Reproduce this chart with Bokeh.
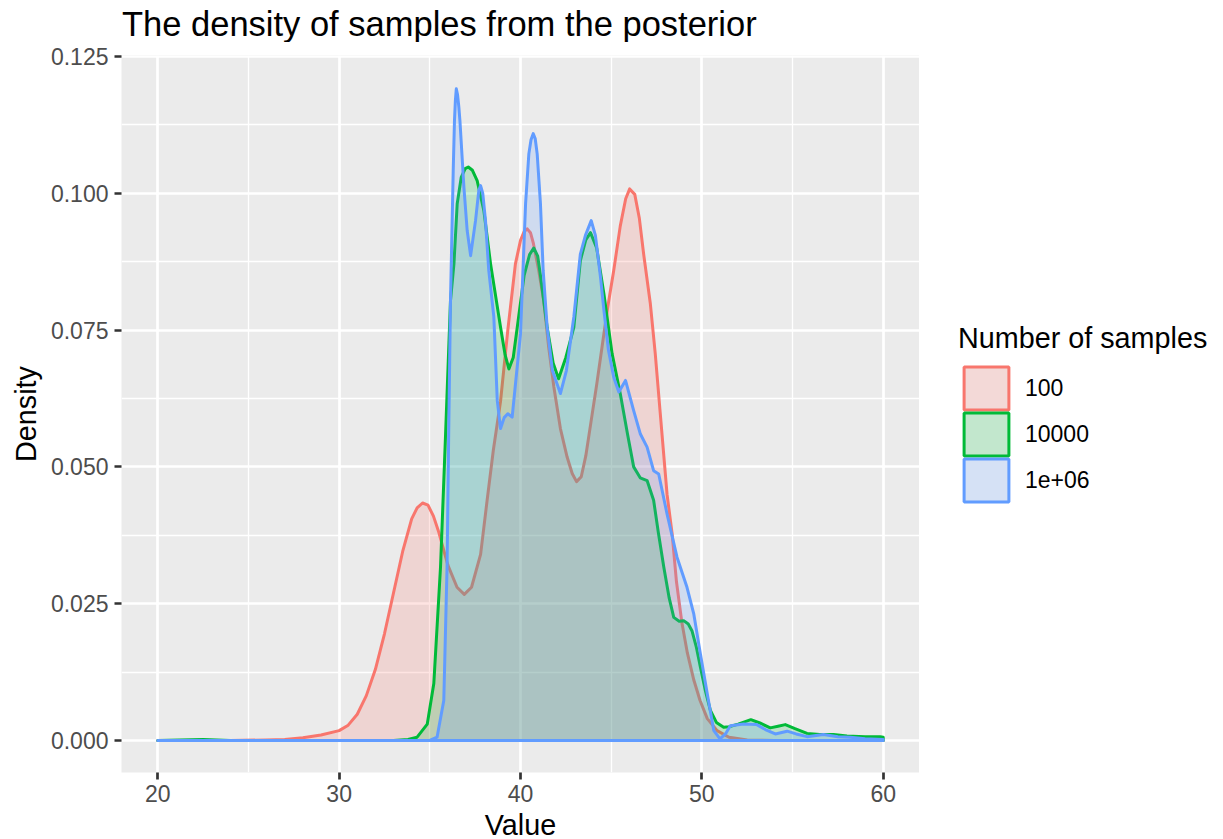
from bokeh.plotting import figure
from bokeh.layouts import column, row
from bokeh.models import Range1d, FixedTicker, PrintfTickFormatter, Legend, LegendItem, Label
from bokeh.embed import file_html
from bokeh.resources import INLINE

FONT = "Liberation Sans"

categories = ["100", "10000", "1e+06"]
colors = ["#F8766D", "#00BA38", "#619CFF"]

x_ticks = [20, 30, 40, 50, 60]
x_minor = [25, 35, 45, 55]
y_ticks = [0.0, 0.025, 0.05, 0.075, 0.1, 0.125]
y_minor = [0.0125, 0.0375, 0.0625, 0.0875, 0.1125]

# ---- samples = 100 ----
x_100 = [20.0, 24.0, 26.0, 27.0, 28.0, 29.0, 30.0, 30.5, 31.0, 31.5, 32.0, 32.5, 33.0,
         33.5, 34.0, 34.3, 34.6, 34.9, 35.2, 35.5, 36.0, 36.5, 36.9, 37.3, 37.8, 38.16,
         38.5, 38.9, 39.3, 39.72, 40.0, 40.2, 40.37, 40.55, 40.7, 41.0, 41.28, 41.55,
         41.84, 42.2, 42.57, 42.85, 43.09, 43.35, 43.6, 43.9, 44.2, 44.5, 44.8, 45.14,
         45.5, 45.8, 46.02, 46.3, 46.55, 46.79, 47.16, 47.43, 47.7, 48.08, 48.36, 48.6,
         48.9, 49.2, 49.56, 49.9, 50.3, 50.84, 51.5, 52.5, 54.0, 60.0]
d_100 = [0.0, 0.0, 0.0001, 0.0002, 0.0005, 0.0010, 0.0018, 0.0028, 0.0048, 0.0082, 0.0130,
         0.0195, 0.0270, 0.0345, 0.0405, 0.0425, 0.0434, 0.0430, 0.0410, 0.0380, 0.0320,
         0.0280, 0.0267, 0.0280, 0.0340, 0.0439, 0.0530, 0.0620, 0.0750, 0.0871, 0.0914,
         0.0930, 0.0935, 0.0928, 0.0910, 0.0860, 0.0804, 0.0720, 0.0646, 0.0570, 0.0518,
         0.0488, 0.0473, 0.0482, 0.0520, 0.0585, 0.0650, 0.0720, 0.0790, 0.0859, 0.0940,
         0.0990, 0.1008, 0.0998, 0.0955, 0.0889, 0.0798, 0.0707, 0.0600, 0.0450, 0.0378,
         0.0290, 0.0215, 0.0160, 0.0110, 0.0073, 0.0040, 0.0018, 0.0006, 0.0001, 0.0, 0.0]

# ---- samples = 10000 ----
x_1e4 = [20.0, 22.5, 24.0, 33.0, 33.8, 34.3, 34.86, 35.22, 35.59, 35.87, 36.14, 36.33,
         36.51, 36.73, 36.95, 37.12, 37.35, 37.61, 37.98, 38.35, 38.9, 39.15, 39.36, 39.6,
         39.82, 40.2, 40.5, 40.73, 40.95, 41.1, 41.47, 41.8, 42.1, 42.5, 42.94, 43.3, 43.6,
         43.86, 44.2, 44.6, 45.05, 45.5, 45.9, 46.24, 46.6, 46.98, 47.34, 47.6, 47.9, 48.2,
         48.45, 48.75, 49.0, 49.25, 49.46, 49.7, 49.92, 50.2, 50.47, 50.8, 51.2, 51.5, 52.0,
         52.7, 53.2, 53.77, 54.2, 54.6, 55.1, 55.8, 56.5, 57.26, 58.0, 59.0, 59.83, 60.0]
d_1e4 = [0.0, 0.0002, 0.0, 0.0, 0.0002, 0.0006, 0.0030, 0.0104, 0.0317, 0.0561, 0.0804,
         0.0871, 0.0981, 0.1029, 0.1045, 0.1048, 0.1042, 0.1023, 0.0968, 0.0871, 0.0755,
         0.0705, 0.0679, 0.0700, 0.0755, 0.0850, 0.0888, 0.0900, 0.0885, 0.0850, 0.0755,
         0.0690, 0.0661, 0.0700, 0.0755, 0.0877, 0.0915, 0.0928, 0.0900, 0.0816, 0.0707,
         0.0634, 0.0560, 0.0500, 0.0480, 0.0475, 0.0439, 0.0380, 0.0317, 0.0260, 0.0225,
         0.0218, 0.0219, 0.0213, 0.0200, 0.0170, 0.0134, 0.0090, 0.0055, 0.0033, 0.0024,
         0.0025, 0.0030, 0.0038, 0.0032, 0.0023, 0.0026, 0.0029, 0.0022, 0.0013, 0.0011,
         0.0011, 0.0008, 0.0007, 0.0007, 0.0006]

# ---- samples = 1e+06 ----
x_1e6 = [20.0, 35.0, 35.4, 35.77, 35.95, 36.04, 36.14, 36.29, 36.36, 36.41, 36.46, 36.53,
         36.6, 36.66, 36.88, 37.06, 37.25, 37.52, 37.7, 37.8, 37.92, 38.07, 38.25, 38.53,
         38.72, 38.9, 39.1, 39.3, 39.54, 40.0, 40.28, 40.46, 40.58, 40.7, 40.81, 40.92,
         41.1, 41.25, 41.47, 41.76, 42.2, 42.53, 42.94, 43.3, 43.58, 43.9, 44.13, 44.41,
         44.6, 44.85, 45.14, 45.42, 45.79, 46.24, 46.61, 46.98, 47.34, 47.62, 48.08, 48.63,
         49.18, 49.55, 49.92, 50.3, 50.66, 51.0, 51.3, 51.57, 52.3, 53.03, 53.5, 54.05,
         54.7, 55.2, 55.8, 56.7, 57.5, 58.18, 59.0, 60.0]
d_1e6 = [0.0, 0.0, 0.0006, 0.0073, 0.0317, 0.0560, 0.0804, 0.1041, 0.1133, 0.1170, 0.1191,
         0.1180, 0.1158, 0.1133, 0.1011, 0.0932, 0.0886, 0.0950, 0.1005, 0.1014, 0.1000,
         0.0950, 0.0859, 0.0774, 0.0621, 0.0570, 0.0590, 0.0597, 0.0591, 0.0743, 0.0981,
         0.1072, 0.1098, 0.1109, 0.1100, 0.1072, 0.0981, 0.0859, 0.0755, 0.0676, 0.0634,
         0.0676, 0.0774, 0.0889, 0.0923, 0.0950, 0.0923, 0.0847, 0.0786, 0.0713, 0.0664,
         0.0637, 0.0658, 0.0603, 0.0560, 0.0536, 0.0493, 0.0487, 0.0414, 0.0335, 0.0280,
         0.0232, 0.0158, 0.0085, 0.0018, 0.0003, 0.0012, 0.0027, 0.0030, 0.0029, 0.0020,
         0.0012, 0.0017, 0.0012, 0.0007, 0.0011, 0.0007, 0.0006, 0.0003, 0.0002]

series_x = [x_100, x_1e4, x_1e6]
series_d = [d_100, d_1e4, d_1e6]

TITLE_H = 42
MAIN_H = 770
BOTTOM_H = 839 - TITLE_H - MAIN_H
MAIN_W = 919
LEG_W = 1223 - MAIN_W
LINE_W = 3.0
FILL_ALPHA = 0.2
KEY_BG = (242, 242, 242)   # ggplot legend key background (grey95)


def blank(width, height, xr=(0, 1)):
    f = figure(width=width, height=height, output_backend="svg", toolbar_location=None,
               x_range=Range1d(*xr), y_range=Range1d(0, 1),
               x_axis_type=None, y_axis_type=None, min_border=0)
    f.outline_line_color = None
    f.background_fill_color = "white"
    f.border_fill_color = "white"
    return f


def closed(xs, ds):
    return list(xs) + [xs[-1], xs[0]], list(ds) + [0.0, 0.0]


def key_fill(hex_color):
    rgb = [int(hex_color[i:i + 2], 16) for i in (1, 3, 5)]
    mix = [round(bg + FILL_ALPHA * (c - bg)) for c, bg in zip(rgb, KEY_BG)]
    return "#%02X%02X%02X" % tuple(mix)


# ---- title strip ----
t = blank(1223, TITLE_H)
t.add_layout(Label(x=121.5, y=TITLE_H - 33.5 + 10, x_units="screen", y_units="screen",
                   text="The density of samples from the posterior",
                   text_font=FONT, text_font_size="34.5px", text_color="black",
                   text_align="left", text_baseline="alphabetic"))

# ---- main panel ----
p = figure(width=MAIN_W, height=MAIN_H, output_backend="svg", toolbar_location=None,
           x_range=Range1d(18, 62), y_range=Range1d(-0.00585, 0.12518),
           min_border_left=121, min_border_right=0, min_border_top=13,
           min_border_bottom=40)
p.title.text = ""
p.title.standoff = 0
p.background_fill_color = "#EBEBEB"
p.border_fill_color = "white"
p.outline_line_color = None

xt = FixedTicker(ticks=x_ticks, minor_ticks=x_minor)
yt = FixedTicker(ticks=y_ticks, minor_ticks=y_minor)
p.xaxis.ticker = xt
p.yaxis.ticker = yt
p.xgrid.ticker = xt
p.ygrid.ticker = yt
p.yaxis.formatter = PrintfTickFormatter(format="%.3f")

for g in (p.xgrid, p.ygrid):
    g.grid_line_color = "white"
    g.grid_line_width = 2.7
    g.minor_grid_line_color = "white"
    g.minor_grid_line_width = 1.3

for ax in (p.xaxis, p.yaxis):
    ax.axis_line_color = None
    ax.major_tick_in = 0
    ax.major_tick_out = 7
    ax.major_tick_line_color = "#333333"
    ax.major_tick_line_width = 2.7
    ax.minor_tick_line_color = None
    ax.major_label_text_font = FONT
    ax.major_label_text_font_size = "23px"
    ax.major_label_text_color = "#4D4D4D"

p.xaxis.major_label_standoff = 5
p.yaxis.major_label_standoff = 6
p.yaxis.axis_label = "Density"
p.yaxis.axis_label_text_font = FONT
p.yaxis.axis_label_text_font_size = "28.75px"
p.yaxis.axis_label_text_font_style = "normal"
p.yaxis.axis_label_text_color = "black"
p.yaxis.axis_label_standoff = 6

for xs, ds, c in zip(series_x, series_d, colors):
    px, py = closed(xs, ds)
    p.patch(px, py, fill_color=c, fill_alpha=FILL_ALPHA, line_color=c, line_width=LINE_W,
            line_join="round")

# ---- legend strip (its frame is aligned with the main panel's frame) ----
lg = blank(LEG_W, MAIN_H, xr=(100, 101))
key_renderers = []
for xs, ds, c in zip(series_x, series_d, colors):
    px, py = closed(xs, ds)   # same series, lying outside this strip's range
    key_renderers.append(lg.patch(px, py, fill_color=key_fill(c), fill_alpha=1.0,
                                  line_color=c, line_width=LINE_W))
# bottoms of the three key rows, measured from the bottom of the panel frame
key_bottoms = [357, 311, 265]
for i, (cat, r, vy) in enumerate(zip(categories, key_renderers, key_bottoms)):
    leg = Legend(items=[LegendItem(label=cat, renderers=[r])], location=(39, vy),
                 glyph_width=56, glyph_height=54, spacing=0, label_standoff=11,
                 padding=0, margin=0, border_line_color=None, background_fill_alpha=0)
    if i == 0:
        leg.title = "Number of samples"
        leg.title_standoff = 6
        leg.title_text_font = FONT
        leg.title_text_font_size = "28.75px"
        leg.title_text_font_style = "normal"
        leg.title_text_color = "black"
    leg.label_text_font = FONT
    leg.label_text_font_size = "23px"
    leg.label_text_color = "black"
    lg.add_layout(leg, "center")

# ---- x-axis title strip ----
b = blank(1223, BOTTOM_H)
b.add_layout(Label(x=520, y=15, x_units="screen", y_units="screen", text="Value",
                   text_font=FONT, text_font_size="28.75px", text_color="black",
                   text_align="center", text_baseline="alphabetic"))

layout = column(t, row(p, lg), b)
open("out.html", "w").write(file_html(layout, INLINE))
